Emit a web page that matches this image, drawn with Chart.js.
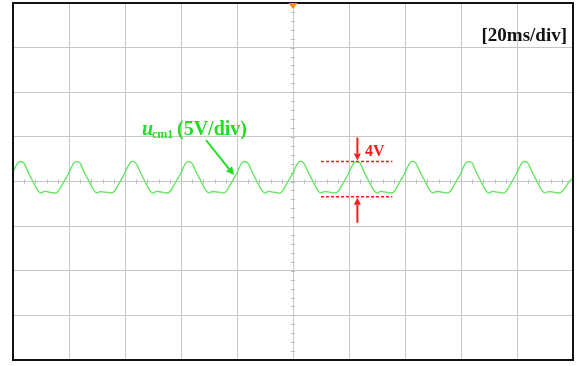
<!DOCTYPE html>
<html>
<head>
<meta charset="utf-8">
<script src="https://cdn.jsdelivr.net/npm/chart.js@4/dist/chart.umd.min.js"></script>
<style>
    body { margin: 0; background: #fff; }
    #scope { display: block; }
</style>
</head>
<body>
<canvas id="scope" width="578" height="366"></canvas>
<script>

// time axis: 20 ms/div, 10 divisions, trigger at 0
var timeMin = -100;
var timeMax = 100;
var timeDiv = 20;
// voltage axis: 5 V/div, 8 divisions
var voltMin = -20;
var voltMax = 20;
var voltDiv = 5;

// u_cm1 samples, one every 1.25 ms starting at -100 ms
var sampleStep = 1.25;
var ucm1 = [
    1.08, 1.86,
    2.24, 2.12, 1.36, 0.52, -0.22, -0.96, -1.28, -1.10, -1.16, -1.24, -1.30, -1.06, -0.38, 0.30, 0.98, 1.84,
    2.22, 2.15, 1.33, 0.56, -0.18, -0.93, -1.26, -1.13, -1.18, -1.21, -1.27, -1.09, -0.42, 0.26, 1.00, 1.80,
    2.25, 2.11, 1.38, 0.54, -0.21, -0.97, -1.29, -1.11, -1.15, -1.23, -1.29, -1.07, -0.39, 0.29, 0.96, 1.83,
    2.23, 2.13, 1.34, 0.57, -0.19, -0.94, -1.27, -1.12, -1.17, -1.20, -1.28, -1.05, -0.41, 0.27, 0.99, 1.85,
    2.24, 2.14, 1.37, 0.53, -0.23, -0.95, -1.28, -1.10, -1.18, -1.22, -1.30, -1.08, -0.37, 0.31, 0.97, 1.81,
    2.26, 2.12, 1.35, 0.55, -0.20, -0.96, -1.26, -1.13, -1.16, -1.24, -1.27, -1.06, -0.40, 0.28, 1.01, 1.84,
    2.22, 2.14, 1.36, 0.52, -0.22, -0.93, -1.29, -1.11, -1.17, -1.21, -1.29, -1.09, -0.38, 0.30, 0.98, 1.82,
    2.25, 2.11, 1.33, 0.56, -0.18, -0.95, -1.27, -1.12, -1.15, -1.23, -1.28, -1.07, -0.42, 0.26, 0.96, 1.86,
    2.23, 2.15, 1.38, 0.54, -0.21, -0.97, -1.28, -1.10, -1.18, -1.22, -1.30, -1.05, -0.39, 0.29, 1.00, 1.83,
    2.24, 2.13, 1.35, 0.55, -0.20, -0.94, -1.27, -1.13, -1.16, -1.24, -1.29, -1.08, -0.55, 0.05, 0.40
];

// peak-to-peak marker (V) and where it sits in time (ms)
var ppTop = 2.24;
var ppBottom = -1.70;
var ppArrowAt = 23;
var ppDashFrom = 10;
var ppDashTo = 35.5;

var points = [];
for (var i = 0; i < ucm1.length; i++) {
    points.push({ x: timeMin + i * sampleStep, y: ucm1[i] });
}

var gridGray = '#c6c6c6';
var traceGreen = '#5de65a';
var labelGreen = '#22dd22';
var markRed = '#ff1a1a';

function arrow(ctx, x1, y1, x2, y2, color, head, half) {
    var a = Math.atan2(y2 - y1, x2 - x1);
    ctx.save();
    ctx.strokeStyle = color;
    ctx.fillStyle = color;
    ctx.lineWidth = 2;
    ctx.beginPath();
    ctx.moveTo(x1, y1);
    ctx.lineTo(x2 - Math.cos(a) * head, y2 - Math.sin(a) * head);
    ctx.stroke();
    ctx.beginPath();
    ctx.moveTo(x2, y2);
    ctx.lineTo(x2 - Math.cos(a) * head - Math.sin(a) * half, y2 - Math.sin(a) * head + Math.cos(a) * half);
    ctx.lineTo(x2 - Math.cos(a) * head + Math.sin(a) * half, y2 - Math.sin(a) * head - Math.cos(a) * half);
    ctx.closePath();
    ctx.fill();
    ctx.restore();
}

var scopeDeco = {
    id: 'scopeDeco',
    beforeDatasetsDraw: function(chart) {
        var ctx = chart.ctx;
        var xs = chart.scales.x, ys = chart.scales.y;
        var cx = xs.getPixelForValue(0), cy = ys.getPixelForValue(0);
        ctx.save();
        ctx.strokeStyle = '#bdbdbd';
        ctx.lineWidth = 1;
        ctx.beginPath();
        // minor ticks on the centre lines, 5 per division
        for (var t = timeMin; t <= timeMax; t += timeDiv / 5) {
            var px = Math.round(xs.getPixelForValue(t)) + 0.5;
            ctx.moveTo(px, cy - 2);
            ctx.lineTo(px, cy + 2);
        }
        for (var v = voltMin; v <= voltMax; v += voltDiv / 5) {
            var py = Math.round(ys.getPixelForValue(v)) + 0.5;
            ctx.moveTo(cx - 2, py);
            ctx.lineTo(cx + 2, py);
        }
        ctx.stroke();
        ctx.restore();
    },
    afterDraw: function(chart) {
        var ctx = chart.ctx;
        var a = chart.chartArea;
        var xs = chart.scales.x, ys = chart.scales.y;

        // frame
        ctx.save();
        ctx.strokeStyle = '#111';
        ctx.lineWidth = 2;
        ctx.strokeRect(a.left, a.top, a.right - a.left, a.bottom - a.top);

        // trigger marker
        var tx = xs.getPixelForValue(0);
        ctx.fillStyle = '#ff8c00';
        ctx.beginPath();
        ctx.moveTo(tx - 4.5, a.top);
        ctx.lineTo(tx + 4.5, a.top);
        ctx.lineTo(tx, a.top + 6);
        ctx.closePath();
        ctx.fill();

        // time base label
        ctx.fillStyle = '#111';
        ctx.font = 'bold 19px "Liberation Serif"';
        ctx.textAlign = 'right';
        ctx.textBaseline = 'alphabetic';
        ctx.fillText('[20ms/div]', a.right - 6, 41);

        // channel label u_cm1 (5V/div)
        ctx.fillStyle = labelGreen;
        ctx.textAlign = 'left';
        ctx.font = 'italic bold 20px "Liberation Serif"';
        ctx.fillText('u', 142, 135);
        ctx.font = 'bold 12px "Liberation Serif"';
        ctx.fillText('cm1', 152, 138);
        ctx.font = 'bold 20px "Liberation Serif"';
        ctx.fillText('(5V/div)', 177, 135);
        arrow(ctx, 206, 140, 234, 175, labelGreen, 8, 4);

        // peak-to-peak marker
        var yTop = ys.getPixelForValue(ppTop);
        var yBot = ys.getPixelForValue(ppBottom);
        var xA = xs.getPixelForValue(ppArrowAt);
        ctx.strokeStyle = markRed;
        ctx.lineWidth = 1.5;
        ctx.setLineDash([3, 2]);
        ctx.beginPath();
        ctx.moveTo(xs.getPixelForValue(ppDashFrom), yTop);
        ctx.lineTo(xs.getPixelForValue(ppDashTo), yTop);
        ctx.moveTo(xs.getPixelForValue(ppDashFrom), yBot);
        ctx.lineTo(xs.getPixelForValue(ppDashTo), yBot);
        ctx.stroke();
        ctx.setLineDash([]);
        arrow(ctx, xA, yTop - 24, xA, yTop - 1, markRed, 7, 3.5);
        arrow(ctx, xA, yBot + 26, xA, yBot + 1, markRed, 7, 3.5);
        ctx.fillStyle = markRed;
        ctx.font = 'bold 16px "Liberation Serif"';
        ctx.fillText('4V', 365, 156);
        ctx.restore();
    }
};

new Chart(document.getElementById('scope'), {
    type: 'line',
    data: {
        datasets: [{
            label: 'ucm1',
            data: points,
            borderColor: traceGreen,
            borderWidth: 1.3,
            pointRadius: 0,
            cubicInterpolationMode: 'monotone',
            fill: false
        }]
    },
    options: {
        responsive: false,
        animation: false,
        layout: {
            padding: { left: 13, top: 3, right: 5, bottom: 6 }
        },
        plugins: {
            legend: { display: false },
            tooltip: { enabled: false }
        },
        scales: {
            x: {
                type: 'linear',
                min: timeMin,
                max: timeMax,
                ticks: { display: false, stepSize: timeDiv },
                grid: { color: gridGray, drawTicks: false },
                border: { display: false }
            },
            y: {
                type: 'linear',
                min: voltMin,
                max: voltMax,
                ticks: { display: false, stepSize: voltDiv },
                grid: { color: gridGray, drawTicks: false },
                border: { display: false }
            }
        }
    },
    plugins: [scopeDeco]
});
</script>
</body>
</html>
